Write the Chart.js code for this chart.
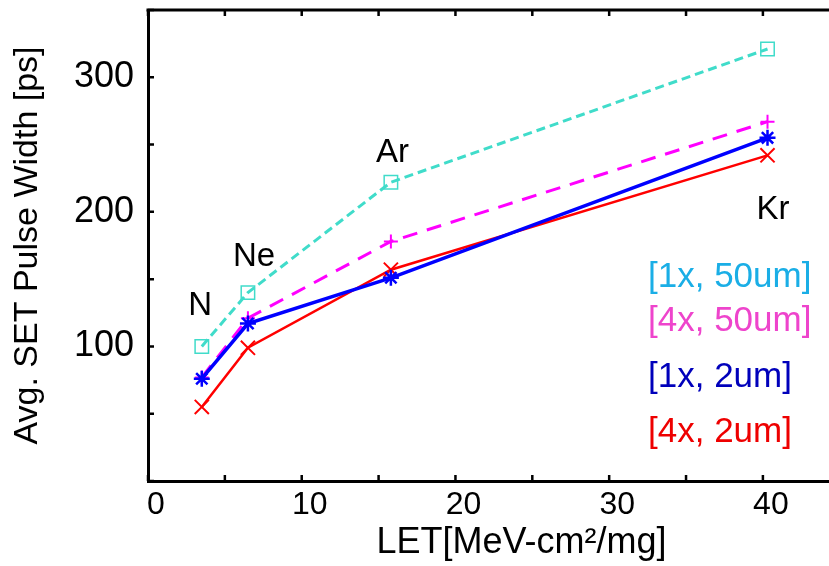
<!DOCTYPE html>
<html>
<head>
<meta charset="utf-8">
<title>Avg. SET Pulse Width vs LET</title>
<script src="https://cdn.jsdelivr.net/npm/chart.js@4.4.0/dist/chart.umd.min.js"></script>
<style>
  html, body { margin: 0; padding: 0; background: #fff; }
  #chart { display: block; }
</style>
</head>
<body>
<canvas id="chart" width="829" height="566"></canvas>
<script>
// Ions and their LET (MeV-cm2/mg)
const ions = ['N', 'Ne', 'Ar', 'Kr'];
const letValues = [3.5, 6.5, 15.8, 40.3];

// Avg. SET pulse width [ps] for each configuration
const width1x50um = [100, 140, 222, 321];
const width4x50um = [77, 121, 178, 267];
const width1x2um = [76, 117, 151, 255];
const width4x2um = [55, 99, 157, 242];

const seriesNames = ['[1x, 50um]', '[4x, 50um]', '[1x, 2um]', '[4x, 2um]'];

// Axis ticks
const xTicks = [0, 5, 10, 15, 20, 25, 30, 35, 40];
const xTickLabels = [0, 10, 20, 30, 40];
const yTicks = [0, 50, 100, 150, 200, 250, 300, 350];
const yTickLabels = [100, 200, 300];

const FONT = "'Liberation Sans', Arial, sans-serif";

function points(values) {
    return letValues.map((x, i) => ({ x: x, y: values[i] }));
}

// Where the ion names sit, in data units
const ionLabelAt = [[3.4, 123], [6.9, 160], [15.9, 237], [40.65, 195]];
const legendColors = ['#1aaee6', '#ee44cc', '#0000bb', '#ee0000'];

// Frame, inward ticks, ion names and the text legend
const decorations = {
    id: 'decorations',
    afterDraw(chart) {
        const ctx = chart.ctx;
        const area = chart.chartArea;
        const xs = chart.scales.x;
        const ys = chart.scales.y;
        ctx.save();

        ctx.strokeStyle = '#000';
        ctx.lineWidth = 3;
        ctx.beginPath();
        ctx.moveTo(area.left - 1.5, area.top);
        ctx.lineTo(area.right, area.top);
        ctx.stroke();

        ctx.lineWidth = 2.5;
        ctx.beginPath();
        xs.ticks.forEach(t => {
            const px = xs.getPixelForValue(t.value);
            ctx.moveTo(px, area.bottom);
            ctx.lineTo(px, area.bottom - 6);
            ctx.moveTo(px, area.top);
            ctx.lineTo(px, area.top + 6);
        });
        ys.ticks.forEach(t => {
            const py = ys.getPixelForValue(t.value);
            ctx.moveTo(area.left, py);
            ctx.lineTo(area.left + 6, py);
        });
        ctx.stroke();

        ctx.fillStyle = '#000';
        ctx.font = '33px ' + FONT;
        ctx.textAlign = 'center';
        ctx.textBaseline = 'alphabetic';
        ions.forEach((name, i) => {
            const pos = ionLabelAt[i];
            ctx.fillText(name, xs.getPixelForValue(pos[0]), ys.getPixelForValue(pos[1]));
        });

        ctx.textAlign = 'left';
        ctx.font = '35px ' + FONT;
        const baselines = [277, 321, 377, 432];
        seriesNames.forEach((name, i) => {
            ctx.fillStyle = legendColors[i];
            ctx.fillText(name, area.right - 181, area.top + baselines[i]);
        });

        ctx.fillStyle = '#000';
        ctx.font = '36px ' + FONT;
        ctx.textAlign = 'center';
        ctx.fillText('LET[MeV-cm\u00B2/mg]', xs.getPixelForValue(24.3), chart.height - 13);

        ctx.restore();
    }
};

new Chart(document.getElementById('chart'), {
    type: 'line',
    data: {
        datasets: [
            {
                label: seriesNames[0],
                data: points(width1x50um),
                borderColor: '#40dcca',
                borderWidth: 3,
                borderDash: [9, 5],
                pointStyle: 'rect',
                pointRadius: 9.5,
                pointBorderWidth: 1.5,
                pointBackgroundColor: 'rgba(0,0,0,0)',
                pointBorderColor: '#40dcca',
                order: 4
            },
            {
                label: seriesNames[1],
                data: points(width4x50um),
                borderColor: '#ff00ff',
                borderWidth: 3,
                borderDash: [15, 10],
                pointStyle: 'cross',
                pointRadius: 7,
                pointBorderWidth: 2,
                pointBorderColor: '#ff00ff',
                order: 3
            },
            {
                label: seriesNames[2],
                data: points(width1x2um),
                borderColor: '#0000ff',
                borderWidth: 3.5,
                pointStyle: 'star',
                pointRadius: 8,
                pointBorderWidth: 2.5,
                pointBorderColor: '#0000ff',
                order: 1
            },
            {
                label: seriesNames[3],
                data: points(width4x2um),
                borderColor: '#ff0000',
                borderWidth: 2.5,
                pointStyle: 'crossRot',
                pointRadius: 10,
                pointBorderWidth: 2,
                pointBorderColor: '#ff0000',
                order: 2
            }
        ]
    },
    options: {
        responsive: false,
        animation: false,
        layout: { autoPadding: false, padding: { top: 10, right: 0, left: 0, bottom: 0 } },
        plugins: {
            legend: { display: false },
            tooltip: { enabled: false }
        },
        scales: {
            x: {
                type: 'linear',
                min: 0,
                max: 44.3,
                afterBuildTicks: scale => { scale.ticks = xTicks.map(v => ({ value: v })); },
                afterFit: scale => {
                    scale.height = 85;
                    scale.paddingLeft = 0;
                    scale.paddingRight = 0;
                },
                grid: { display: false, drawTicks: false },
                border: { display: true, color: '#000', width: 3 },
                ticks: {
                    color: '#000',
                    padding: 5,
                    labelOffset: 8,
                    maxRotation: 0,
                    font: { family: FONT, size: 32 },
                    callback: v => xTickLabels.includes(v) ? String(v) : ''
                }
            },
            y: {
                min: 0,
                max: 350,
                afterBuildTicks: scale => { scale.ticks = yTicks.map(v => ({ value: v })); },
                afterFit: scale => {
                    scale.width = 148;
                    scale.paddingTop = 0;
                    scale.paddingBottom = 0;
                },
                grid: { display: false, drawTicks: false },
                border: { display: true, color: '#000', width: 3 },
                ticks: {
                    color: '#000',
                    padding: 14,
                    font: { family: FONT, size: 36 },
                    callback: v => yTickLabels.includes(v) ? String(v) : ''
                },
                title: {
                    display: true,
                    text: 'Avg. SET Pulse Width [ps]',
                    color: '#000',
                    padding: { top: 7, bottom: 0 },
                    font: { family: FONT, size: 34 }
                }
            }
        }
    },
    plugins: [decorations]
});
</script>
</body>
</html>
